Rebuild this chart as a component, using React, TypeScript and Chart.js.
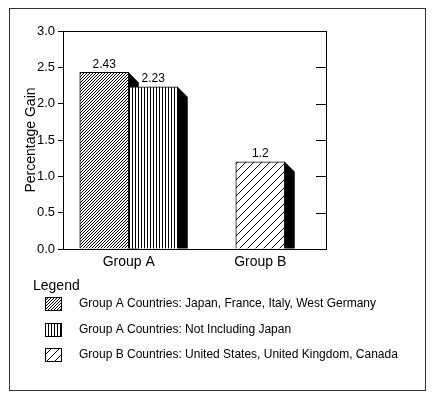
import React, { useEffect, useRef } from "react";
import { Chart, registerables } from "chart.js";

Chart.register(...registerables);

const categories = ["Group A", "Group B"];
const seriesLabels = [
  "Group A Countries: Japan, France, Italy, West Germany",
  "Group A Countries: Not Including Japan",
  "Group B Countries: United States, United Kingdom, Canada",
];
const groupAAll = [2.43, null];
const groupANoJapan = [2.23, null];
const groupB = [null, 1.2];
const valueLabels = [["2.43", ""], ["2.23", ""], ["", "1.2"]];
const yTitle = "Percentage Gain";
const legendTitle = "Legend";
const yMin = 0;
const yMax = 3;
const yStep = 0.5;

const FONT = "'Liberation Sans', Arial, Helvetica, sans-serif";
const DEPTH = 10;

function makePattern(kind: string): CanvasPattern | string {
  const c = document.createElement("canvas");
  const size = kind === "dense" ? 3 : kind === "vertical" ? 3 : 8;
  c.width = size;
  c.height = size;
  const g = c.getContext("2d")!;
  const img = g.createImageData(size, size);
  for (let y = 0; y < size; y++) {
    for (let x = 0; x < size; x++) {
      let on = false;
      if (kind === "dense") on = (x + y) % 3 === 0;
      else if (kind === "vertical") on = x === 0;
      else on = (x + y) % 8 === 7;
      const i = (y * size + x) * 4;
      const v = on ? 0 : 255;
      img.data[i] = v;
      img.data[i + 1] = v;
      img.data[i + 2] = v;
      img.data[i + 3] = 255;
    }
  }
  g.putImageData(img, 0, 0);
  const p = g.createPattern(c, "repeat");
  return p || "#888";
}

export default function App() {
  const ref = useRef<HTMLCanvasElement | null>(null);

  useEffect(() => {
    if (!ref.current) return;
    const patterns = [makePattern("dense"), makePattern("vertical"), makePattern("diag")];

    const sidePlugin = {
      id: "sides",
      beforeDatasetsDraw(chart: any) {
        const ctx = chart.ctx;
        ctx.save();
        chart.data.datasets.forEach((ds: any, di: number) => {
          const meta = chart.getDatasetMeta(di);
          meta.data.forEach((bar: any, i: number) => {
            if (ds.data[i] == null) return;
            const { x, y, base, width } = bar.getProps(["x", "y", "base", "width"], true);
            const r = x + width / 2;
            ctx.beginPath();
            ctx.moveTo(r, y);
            ctx.lineTo(r + DEPTH, y + DEPTH);
            ctx.lineTo(r + DEPTH, base);
            ctx.lineTo(r, base);
            ctx.closePath();
            ctx.fillStyle = "#000";
            ctx.fill();
          });
        });
        ctx.restore();
      },
      afterDatasetsDraw(chart: any) {
        const ctx = chart.ctx;
        ctx.save();
        ctx.font = `12px ${FONT}`;
        ctx.fillStyle = "#000";
        ctx.textAlign = "center";
        ctx.textBaseline = "bottom";
        chart.data.datasets.forEach((ds: any, di: number) => {
          const meta = chart.getDatasetMeta(di);
          meta.data.forEach((bar: any, i: number) => {
            if (ds.data[i] == null) return;
            const { x, y } = bar.getProps(["x", "y"], true);
            ctx.fillText(valueLabels[di][i], x, y - 2);
          });
        });
        ctx.restore();
      },
      afterDraw(chart: any) {
        const ctx = chart.ctx;
        const a = chart.chartArea;
        ctx.save();
        ctx.strokeStyle = "#000";
        ctx.lineWidth = 1;
        ctx.strokeRect(Math.round(a.left) + 0.5, Math.round(a.top) + 0.5, Math.round(a.right - a.left), Math.round(a.bottom - a.top));
        const ys = chart.scales.y;
        ys.ticks.forEach((t: any) => {
          const py = Math.round(ys.getPixelForValue(t.value)) + 0.5;
          ctx.beginPath();
          ctx.moveTo(a.right - 10, py);
          ctx.lineTo(a.right, py);
          ctx.stroke();
        });
        ctx.strokeStyle = "#333";
        ctx.strokeRect(9.5, 8.5, 416, 382);
        ctx.fillStyle = "#000";
        ctx.textAlign = "left";
        ctx.textBaseline = "middle";
        ctx.font = `14px ${FONT}`;
        ctx.fillText(legendTitle, 33, 286);
        ctx.font = `12px ${FONT}`;
        seriesLabels.forEach((lab, i) => {
          const byR = Math.round(297 + i * 25.5);
          ctx.fillStyle = patterns[i] as any;
          ctx.fillRect(45, byR, 16, 13);
          ctx.strokeStyle = "#000";
          ctx.strokeRect(45.5, byR + 0.5, 16, 13);
          ctx.fillStyle = "#000";
          ctx.fillText(lab, 79, byR + 7);
        });
        ctx.restore();
      },
    };

    const chart = new Chart(ref.current, {
      type: "bar",
      data: {
        labels: categories,
        datasets: [
          { label: seriesLabels[0], data: groupAAll, backgroundColor: patterns[0] as any, borderColor: "#000", borderWidth: 1, skipNull: true, barThickness: 49 } as any,
          { label: seriesLabels[1], data: groupANoJapan, backgroundColor: patterns[1] as any, borderColor: "#000", borderWidth: 1, skipNull: true, barThickness: 49 } as any,
          { label: seriesLabels[2], data: groupB, backgroundColor: patterns[2] as any, borderColor: "#000", borderWidth: 1, skipNull: true, barThickness: 49 } as any,
        ],
      },
      options: {
        responsive: false,
        animation: false,
        layout: { padding: { left: 0, top: 31, right: 108, bottom: 0 } },
        plugins: { legend: { display: false }, tooltip: { enabled: false }, title: { display: false } },
        scales: {
          x: {
            grid: { display: false, drawTicks: false },
            border: { display: true, color: "#000" },
            ticks: { color: "#000", font: { family: FONT, size: 14 }, padding: 5 },
            afterFit(scale: any) {
              scale.height = 146;
            },
          },
          y: {
            min: yMin,
            max: yMax,
            ticks: {
              stepSize: yStep,
              color: "#000",
              font: { family: FONT, size: 13 },
              padding: 3,
              callback: (v: any) => Number(v).toFixed(1),
            },
            grid: { drawOnChartArea: false, drawTicks: true, tickLength: 5, color: "#000" },
            border: { display: true, color: "#000" },
            title: {
              display: true,
              text: yTitle,
              color: "#000",
              font: { family: FONT, size: 14 },
              padding: { top: 23, bottom: 0 },
            },
            afterFit(scale: any) {
              scale.width = 63;
            },
          },
        },
      },
      plugins: [sidePlugin],
    } as any);
    return () => chart.destroy();
  }, []);

  return (
    <div style={{ position: "absolute", left: 0, top: 0, width: 434, height: 395, background: "#fff" }}>
      <canvas ref={ref} width={434} height={395} style={{ display: "block" }} />
    </div>
  );
}
